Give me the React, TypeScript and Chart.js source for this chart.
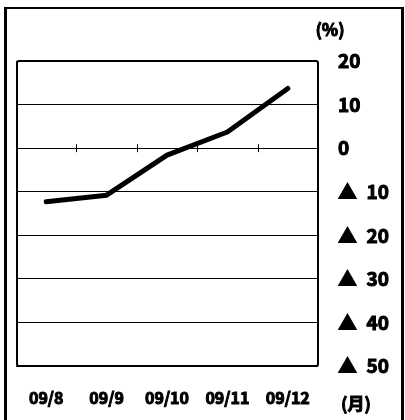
import React, { useEffect, useRef } from "react";
import { Chart, registerables } from "chart.js";

Chart.register(...registerables);

const categories = ["09/8", "09/9", "09/10", "09/11", "09/12"];
const seriesValues = [-12.3, -10.8, -1.6, 3.7, 13.7];
const yMin = -50;
const yMax = 20;
const yStep = 10;
const yUnitLabel = "(%)";
const xUnitLabel = "(月)";

const FONT = "'Noto Sans CJK JP', 'Noto Sans', sans-serif";

const framePlugin = {
  id: "framePlugin",
  beforeDraw(chart: any) {
    const ctx = chart.ctx;
    ctx.save();
    ctx.fillStyle = "#ffffff";
    ctx.fillRect(0, 0, chart.width, chart.height);
    ctx.fillStyle = "#000000";
    // outer frame
    ctx.fillRect(4, 7, 3, chart.height - 7);
    ctx.fillRect(4, 7, 400, 2);
    ctx.fillRect(401, 7, 3, chart.height - 7);
    ctx.restore();
  },
  afterDraw(chart: any) {
    const ctx = chart.ctx;
    const a = chart.chartArea;
    const xs = chart.scales.x;
    const ys = chart.scales.y;
    ctx.save();
    // plot box
    ctx.strokeStyle = "#000000";
    ctx.lineWidth = 2;
    ctx.beginPath();
    const r = 2;
    const l = a.left + 1, t = a.top, rr = a.right, b = a.bottom;
    ctx.moveTo(l + r, t);
    ctx.lineTo(rr - r, t);
    ctx.quadraticCurveTo(rr, t, rr, t + r);
    ctx.lineTo(rr, b - r);
    ctx.quadraticCurveTo(rr, b, rr - r, b);
    ctx.lineTo(l + r, b);
    ctx.quadraticCurveTo(l, b, l, b - r);
    ctx.lineTo(l, t + r);
    ctx.quadraticCurveTo(l, t, l + r, t);
    ctx.closePath();
    ctx.stroke();
    // category boundary ticks on the zero line
    const y0 = ys.getPixelForValue(0);
    ctx.lineWidth = 1;
    for (let i = 0; i < categories.length - 1; i++) {
      const bx = Math.round((xs.getPixelForValue(i) + xs.getPixelForValue(i + 1)) / 2) + 0.5;
      ctx.beginPath();
      ctx.moveTo(bx, y0 - 4);
      ctx.lineTo(bx, y0 + 4);
      ctx.stroke();
    }
    // unit labels
    ctx.fillStyle = "#000000";
    ctx.strokeStyle = "#000000";
    ctx.lineWidth = 1;
    ctx.font = "bold 17px " + FONT;
    ctx.textAlign = "center";
    ctx.textBaseline = "middle";
    ctx.fillText(yUnitLabel, 330, 30);
    ctx.strokeText(yUnitLabel, 330, 30);
    ctx.fillText(xUnitLabel, 356, 404);
    ctx.strokeText(xUnitLabel, 356, 404);
    ctx.restore();
  },
};

export default function App() {
  const canvasRef = useRef<HTMLCanvasElement | null>(null);

  useEffect(() => {
    if (!canvasRef.current) return;
    const chart = new Chart(canvasRef.current, {
      type: "line",
      data: {
        labels: categories,
        datasets: [
          {
            data: seriesValues,
            borderColor: "#000000",
            borderWidth: 5,
            borderCapStyle: "round",
            borderJoinStyle: "round",
            pointRadius: 0,
            pointHoverRadius: 0,
            tension: 0,
            fill: false,
          },
        ],
      },
      options: {
        animation: false,
        responsive: false,
        maintainAspectRatio: false,
        devicePixelRatio: 1,
        layout: { padding: { left: 16, top: 61, right: 0, bottom: 0 } },
        plugins: {
          legend: { display: false },
          tooltip: { enabled: false },
          title: { display: false },
        },
        scales: {
          x: {
            offset: true,
            grid: { display: false, drawTicks: false },
            border: { display: false },
            ticks: {
              color: "#000000",
              font: { family: FONT, size: 16, weight: "bold" },
              textStrokeColor: "#000000",
              textStrokeWidth: 1,
              padding: 22,
              maxRotation: 0,
              autoSkip: false,
            },
            afterFit(scale: any) {
              scale.height = 54;
            },
          },
          y: {
            position: "right",
            min: yMin,
            max: yMax,
            grid: { color: "#000000", lineWidth: 1, drawTicks: false },
            border: { display: false },
            ticks: {
              stepSize: yStep,
              color: "#000000",
              font: { family: FONT, size: 19, weight: "bold" },
              textStrokeColor: "#000000",
              textStrokeWidth: 1,
              padding: 20,
              callback: (v: any) => (Number(v) < 0 ? "▲\u2002" + -Number(v) : String(v)),
            },
            afterFit(scale: any) {
              scale.width = 87;
            },
          },
        },
      },
      plugins: [framePlugin],
    });
    return () => chart.destroy();
  }, []);

  return (
    <div style={{ position: "absolute", left: 0, top: 0, width: 405, height: 420 }}>
      <canvas ref={canvasRef} width={405} height={420} style={{ width: 405, height: 420, display: "block" }} />
    </div>
  );
}
